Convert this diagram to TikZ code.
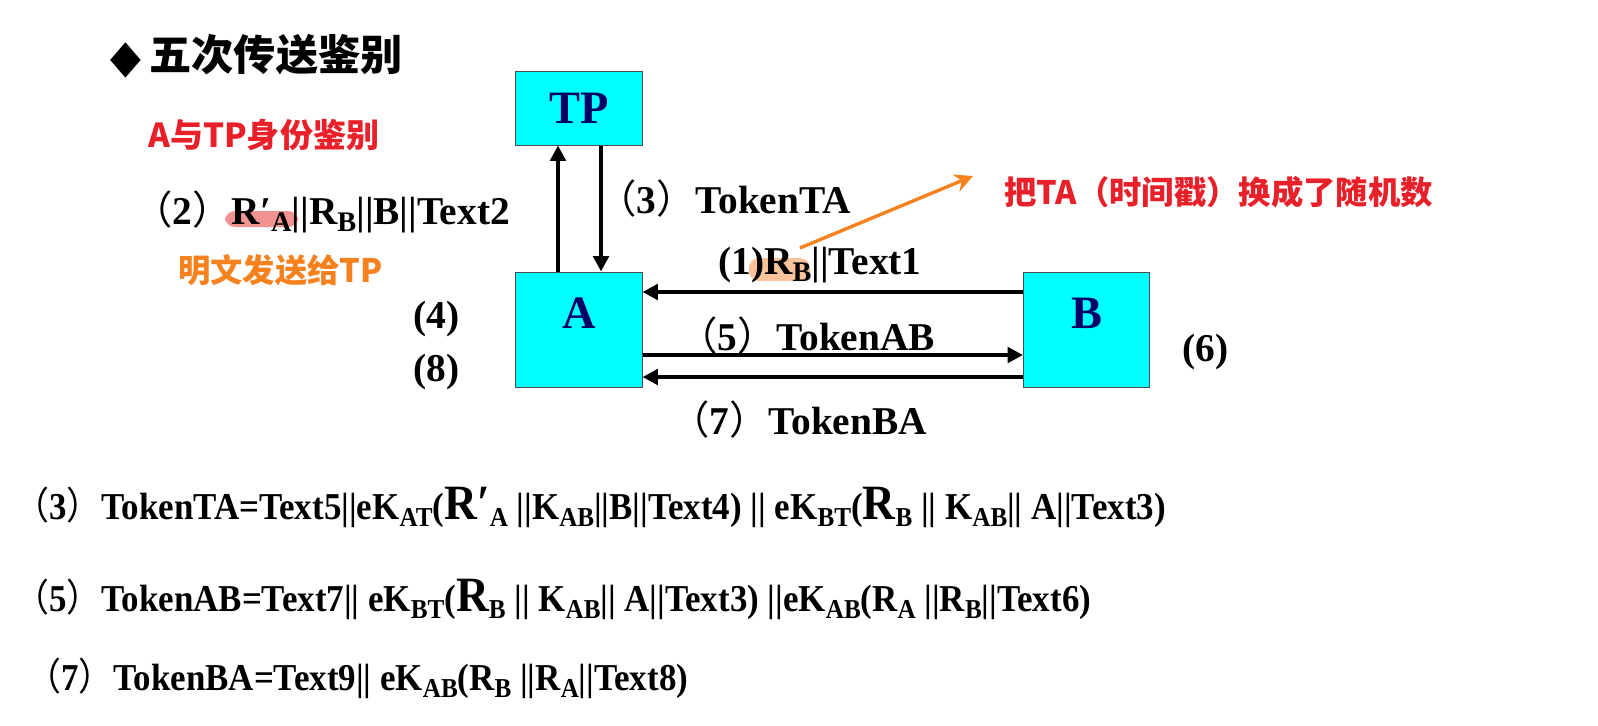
\documentclass[tikz,border=0pt]{standalone}
\usepackage{fontspec}
\setmainfont{Liberation Serif}
\newfontfamily\cjk{Noto Sans CJK SC}
\newfontfamily\symf{DejaVu Sans}
\usetikzlibrary{arrows.meta}

\definecolor{boxcyan}{HTML}{00FFFF}
\definecolor{navy}{HTML}{000066}
\definecolor{notered}{HTML}{E8202A}
\definecolor{noteorange}{HTML}{F5821F}
\definecolor{hlpink}{HTML}{F08080}
\definecolor{hlorange}{HTML}{F8B98A}

\newcommand{\lp}{{\cjk\mdseries （}}
\newcommand{\rp}{{\cjk\mdseries ）}}
\newcommand{\sbx}[1]{\raisebox{-0.4ex}{\scalebox{0.72}{#1}}}
\newcommand{\bigR}[1]{\scalebox{1.3}{#1}}
\newcommand{\narrow}[1]{\scalebox{0.92}[1]{#1}}

\tikzset{
  box/.style={draw=black!70, line width=0.7pt, fill=boxcyan, inner sep=0pt,
    minimum width=3.15cm},
  boxlab/.style={text=navy, font=\fontsize{33}{33}\selectfont\bfseries},
  msg/.style={inner sep=0pt, anchor=west, font=\fontsize{28}{28}\selectfont\bfseries},
  eqn/.style={inner sep=0pt, anchor=west, font=\fontsize{27}{27}\selectfont\bfseries},
  arr/.style={line width=2.8pt, -{Triangle[length=11pt,width=11pt]}},
  notearr/.style={line width=2.4pt, noteorange, -{Stealth[length=13pt,width=13pt]}}
}

\begin{document}
\begin{tikzpicture}[x=0.025cm,y=-0.025cm]
  \useasboundingbox (0,0) rectangle (1598,725);

  % title
  \node[inner sep=0pt, anchor=west, font=\fontsize{30}{30}\selectfont\bfseries] (title) at (110,56)
    {\raisebox{-0.05em}{\scalebox{0.95}[1.1]{\symf ◆}}\kern0.2em{\cjk 五次传送鉴别}};

  % boxes
  \node[box, minimum height=1.85cm, boxlab] (TP) at (579,108) {TP};
  \node[box, minimum height=2.875cm] (A) at (579,329.5) {};
  \node[box, minimum height=2.875cm] (B) at (1086.5,329.5) {};
  \node[boxlab] (Alab) at (579,313) {A};
  \node[boxlab] (Blab) at (1086.5,313) {B};

  % highlights
  \fill[hlpink, opacity=0.85, rounded corners=7pt] (225,211) rectangle (298,227);
  \fill[hlorange, opacity=0.85, rounded corners=7pt] (749,258) rectangle (810,281);

  % arrows
  \draw[arr] ([xshift=-0.525cm]A.north) -- ([xshift=-0.525cm]TP.south);
  \draw[arr] ([xshift=0.55cm]TP.south) -- ([xshift=0.55cm]A.north);
  \draw[arr] ([yshift=0.9375cm]B.west) -- ([yshift=0.9375cm]A.east);
  \draw[arr] ([yshift=-0.6375cm]A.east) -- ([yshift=-0.6375cm]B.west);
  \draw[arr] ([yshift=-1.1875cm]B.west) -- ([yshift=-1.1875cm]A.east);

  % messages
  \node[msg] (m2) at (133,212) {\lp 2\rp R′\sbx{A}||R\sbx{B}||B||Text2};
  \node[msg] (m3) at (597,199) {\lp 3\rp TokenTA};
  \node[msg] (m1) at (718,265) {(1)R\sbx{B}||Text1};
  \node[msg] (m5) at (678,336) {\lp 5\rp TokenAB};
  \node[msg] (m7) at (670,420) {\lp 7\rp TokenBA};
  \node[msg] (m4) at (413,319) {(4)};
  \node[msg] (m8) at (413,372) {(8)};
  \node[msg] (m6) at (1182,352) {(6)};

  % notes
  \node[inner sep=0pt, anchor=west, text=notered, font=\cjk\fontsize{23.5}{23.5}\selectfont\bfseries]
    (n1) at (148,135) {A与TP身份鉴别};
  \node[inner sep=0pt, anchor=west, text=noteorange, font=\cjk\fontsize{23}{23}\selectfont\bfseries]
    (n2) at (178,270) {明文发送给TP};
  \node[inner sep=0pt, anchor=west, text=notered, font=\cjk\fontsize{23}{23}\selectfont\bfseries]
    (n3) at (1004,192) {把TA（时间戳）换成了随机数};
  \coordinate (pin) at (800,248);
  \coordinate (pout) at (973,176);
  \draw[notearr] (pin) -- (pout);

  % tokens
  \node[eqn] (e3) at (14,507)
    {\narrow{\lp 3\rp TokenTA=Text5||eK\sbx{AT}(\bigR{R′}\sbx{A} ||K\sbx{AB}||B||Text4) || eK\sbx{BT}(\bigR{R}\sbx{B} || K\sbx{AB}|| A||Text3)}};
  \node[eqn] (e5) at (14,599)
    {\narrow{\lp 5\rp TokenAB=Text7|| eK\sbx{BT}(\bigR{R}\sbx{B} || K\sbx{AB}|| A||Text3) ||eK\sbx{AB}(R\sbx{A} ||R\sbx{B}||Text6)}};
  \node[eqn] (e7) at (26,678)
    {\narrow{\lp 7\rp TokenBA=Text9|| eK\sbx{AB}(R\sbx{B} ||R\sbx{A}||Text8)}};
\end{tikzpicture}
\end{document}
